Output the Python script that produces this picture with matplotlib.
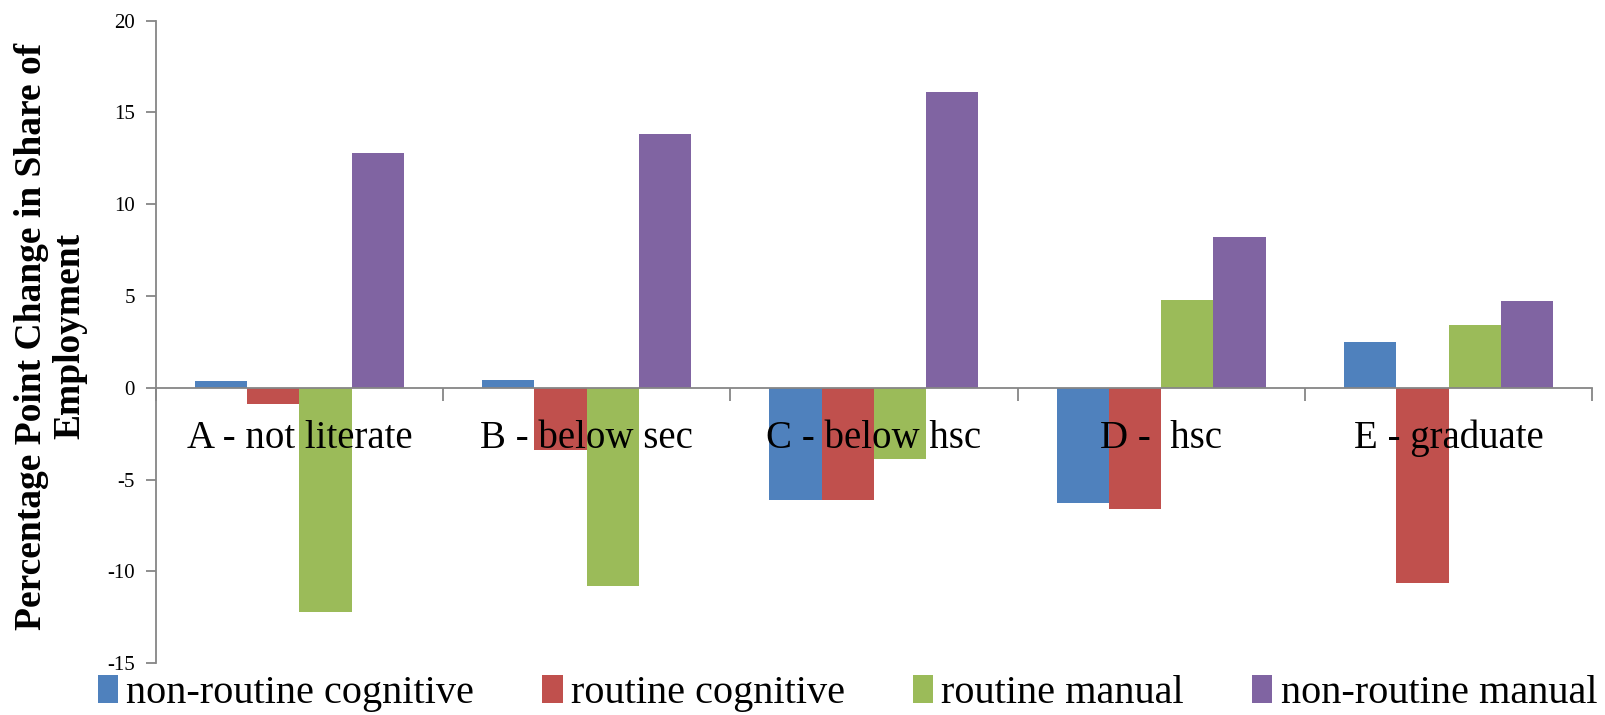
import matplotlib
matplotlib.use("Agg")
import matplotlib.pyplot as plt
from matplotlib.patches import Patch
import numpy as np

categories = ["A - not literate", "B - below sec", "C - below hsc", "D -  hsc", "E - graduate"]
series_names = ["non-routine cognitive", "routine cognitive", "routine manual", "non-routine manual"]
non_routine_cognitive = [0.35, 0.4, -6.1, -6.3, 2.5]
routine_cognitive = [-0.9, -3.4, -6.1, -6.6, -10.65]
routine_manual = [-12.2, -10.8, -3.9, 4.8, 3.4]
non_routine_manual = [12.8, 13.85, 16.1, 8.2, 4.75]
colors = ["#4F81BD", "#C0504D", "#9BBB59", "#8064A2"]

series = [non_routine_cognitive, routine_cognitive, routine_manual, non_routine_manual]

plt.rcParams["font.family"] = ["Liberation Serif", "DejaVu Serif"]
plt.rcParams["axes.unicode_minus"] = False

fig = plt.figure(figsize=(16.05, 7.15), dpi=100)
ax = fig.add_axes([0.097, 0.0727, 0.895, 0.8983])

n = len(categories)
x = np.arange(n)
bar_w = 1 / 5.5
for i, (vals, c) in enumerate(zip(series, colors)):
    ax.bar(x + (i - 1.5) * bar_w, vals, width=bar_w, color=c, linewidth=0, zorder=2)

ax.set_xlim(-0.5, n - 0.5)
ax.set_ylim(-15, 20)
ax.set_yticks(np.arange(-15, 21, 5))

axis_color = "#868686"
for s in ["top", "right"]:
    ax.spines[s].set_visible(False)
ax.spines["left"].set_color(axis_color)
ax.spines["left"].set_linewidth(1.3)
ax.spines["bottom"].set_position(("data", 0))
ax.spines["bottom"].set_color(axis_color)
ax.spines["bottom"].set_linewidth(1.3)
ax.spines["bottom"].set_zorder(3)

ax.set_xticks(np.arange(-0.5, n, 1.0))
ax.set_xticklabels([])
ax.tick_params(axis="x", direction="out", length=9, width=1.3, color=axis_color)
ax.tick_params(axis="y", direction="out", length=7, width=1.3, color=axis_color,
               labelsize=15, pad=8)

for xi, label in zip(x, categories):
    ax.text(xi, -2.75, label, ha="center", va="center", fontsize=28, zorder=4)

fig.text(0.0315, 0.53, "Percentage Point Change in Share of\nEmployment", rotation=90,
         ha="center", va="center", fontsize=27, fontweight="bold", linespacing=1.1)

handles = [Patch(facecolor=c, edgecolor="none") for c in colors]
fig.legend(handles, series_names, loc="center", bbox_to_anchor=(0.528, 0.03), ncol=4,
           frameon=False, fontsize=29, handlelength=0.5, handleheight=0.7,
           handletextpad=0.2, columnspacing=1.7, borderaxespad=0)

fig.savefig("out.png", dpi=100)
